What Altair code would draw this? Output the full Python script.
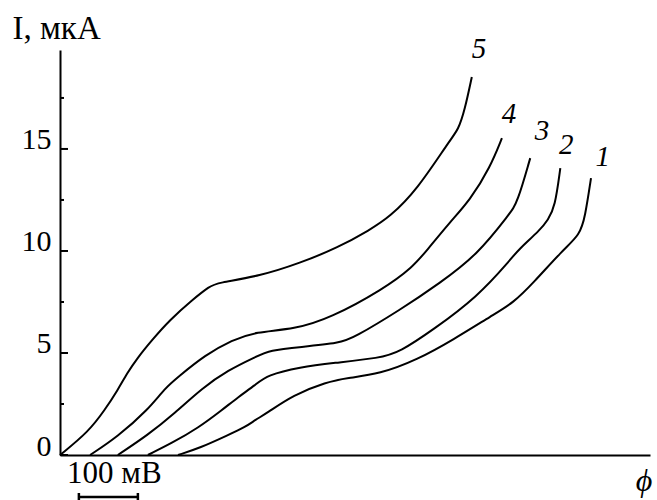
import altair as alt
import pandas as pd

# Curve data: potential (mV, relative) and current (uA)
c1_x = [200, 237, 285, 314, 331, 351, 395, 452, 486, 542, 605, 666, 734, 768, 802, 852, 881, 890, 900]
c1_y = [0.0, 0.34, 0.98, 1.37, 1.72, 2.06, 2.94, 3.58, 3.77, 3.97, 4.66, 5.64, 6.87, 7.45, 8.43, 10.04, 10.78, 11.67, 13.57]

c2_x = [149, 190, 234, 275, 302, 331, 351, 407, 463, 542, 576, 632, 707, 763, 776, 814, 827, 839, 848]
c2_y = [0.0, 0.59, 1.32, 2.21, 2.84, 3.43, 3.92, 4.31, 4.51, 4.75, 5.05, 6.13, 7.74, 9.55, 10.04, 11.03, 11.52, 12.15, 14.06]

c3_x = [98, 149, 195, 241, 285, 331, 356, 407, 475, 497, 576, 644, 707, 763, 775, 797]
c3_y = [0.0, 0.98, 2.06, 3.28, 4.16, 4.80, 5.14, 5.29, 5.49, 5.73, 7.10, 8.43, 9.80, 11.86, 12.35, 14.55]

c4_x = [51, 97, 149, 178, 200, 246, 292, 331, 398, 458, 548, 598, 622, 661, 695, 729, 749]
c4_y = [0.0, 0.88, 2.21, 3.28, 3.82, 4.90, 5.64, 6.03, 6.17, 6.71, 8.13, 9.21, 10.04, 11.42, 12.49, 14.10, 15.53]

c5_x = [0, 48, 76, 98, 114, 131, 156, 186, 224, 254, 266, 339, 407, 470, 525, 559, 605, 661, 675, 686, 698]
c5_y = [0.0, 1.13, 2.21, 3.19, 4.02, 4.75, 5.64, 6.62, 7.60, 8.28, 8.43, 8.77, 9.41, 10.15, 11.03, 11.67, 12.99, 15.44, 15.93, 16.91, 18.53]

series_names = ["1", "2", "3", "4", "5"]
label_x = [920, 858, 817, 761, 710]
label_y = [14.6, 15.2, 15.9, 16.7, 19.9]

major_ticks = [0, 5, 10, 15]
minor_ticks = [2.5, 7.5, 12.5, 17.5]

scale_bar_start = 32
scale_bar_end = 132
scale_bar_text = "100 мВ"

FONT = "Liberation Serif"

rows = []
for name, xs, ys in zip(series_names, [c1_x, c2_x, c3_x, c4_x, c5_x], [c1_y, c2_y, c3_y, c4_y, c5_y]):
    for i, (a, b) in enumerate(zip(xs, ys)):
        rows.append({"series": name, "phi": a, "I": b, "order": i})
curves = pd.DataFrame(rows)
labels = pd.DataFrame({"series": series_names, "phi": label_x, "I": label_y})

xscale = alt.Scale(domain=[0, 1000], nice=False, zero=False)
yscale = alt.Scale(domain=[0, 19.85], nice=False)

xenc = alt.X("phi:Q", scale=xscale,
             axis=alt.Axis(domain=True, ticks=False, labels=False, grid=False, title=None,
                           domainColor="black", domainWidth=2))
yenc = alt.Y("I:Q", scale=yscale,
             axis=alt.Axis(values=major_ticks, domain=True, ticks=False, tickSize=0, grid=False,
                           domainColor="black", domainWidth=2,
                           labelFont=FONT, labelFontSize=30, labelColor="black",
                           labelPadding=9, labelBaseline="alphabetic",
                           title="I, мкА", titleAngle=0, titleAlign="left",
                           titleBaseline="alphabetic", titleX=-48, titleY=-12,
                           titleFont=FONT, titleFontSize=33, titleFontWeight="normal",
                           titleColor="black"))

lines = alt.Chart(curves).mark_line(color="black", strokeWidth=2, interpolate="basis").encode(
    x=xenc, y=yenc, detail="series:N", order="order:Q"
)

major_t = alt.Chart(pd.DataFrame({"v": major_ticks})).mark_rule(color="black", strokeWidth=2).encode(
    y=alt.Y("v:Q", scale=yscale), x=alt.value(0), x2=alt.value(8)
)
minor_t = alt.Chart(pd.DataFrame({"v": minor_ticks})).mark_rule(color="black", strokeWidth=2).encode(
    y=alt.Y("v:Q", scale=yscale), x=alt.value(0), x2=alt.value(4)
)

curve_labels = alt.Chart(labels).mark_text(
    font=FONT, fontSize=29, fontStyle="italic", color="black", align="center", baseline="middle"
).encode(x=alt.X("phi:Q", scale=xscale), y=alt.Y("I:Q", scale=yscale), text="series:N")

bar_df = pd.DataFrame({"a": [scale_bar_start], "b": [scale_bar_end], "t": [scale_bar_text],
                       "mid": [(scale_bar_start + scale_bar_end) / 2 + 10]})
bar = alt.Chart(bar_df).mark_rule(color="black", strokeWidth=2.5).encode(
    x=alt.X("a:Q", scale=xscale), x2="b:Q", y=alt.value(447)
)
cap1 = alt.Chart(bar_df).mark_rule(color="black", strokeWidth=2.5).encode(
    x=alt.X("a:Q", scale=xscale), y=alt.value(443), y2=alt.value(451)
)
cap2 = alt.Chart(bar_df).mark_rule(color="black", strokeWidth=2.5).encode(
    x=alt.X("b:Q", scale=xscale), y=alt.value(443), y2=alt.value(451)
)
bar_text = alt.Chart(bar_df).mark_text(
    font=FONT, fontSize=31, color="black", align="center", baseline="alphabetic"
).encode(x=alt.X("mid:Q", scale=xscale), y=alt.value(433), text="t:N")

phi_text = alt.Chart(pd.DataFrame({"t": ["ϕ"]})).mark_text(
    font=FONT, fontSize=32, fontStyle="italic", color="black", align="center", baseline="alphabetic"
).encode(x=alt.value(584), y=alt.value(441), text="t:N")

chart = alt.layer(
    lines, major_t, minor_t, curve_labels, bar, cap1, cap2, bar_text, phi_text
).properties(
    width=590, height=405,
    padding={"left": 60, "top": 50, "right": 7, "bottom": 45},
    autosize=alt.AutoSizeParams(type="none"),
).configure(
    background="white",
    view=alt.ViewConfig(stroke=None),
    axis=alt.AxisConfig(labelFont=FONT, titleFont=FONT, labelFontSize=30, labelColor="black"),
)

chart.save("out.html", embed_options={"renderer": "svg", "actions": False})
